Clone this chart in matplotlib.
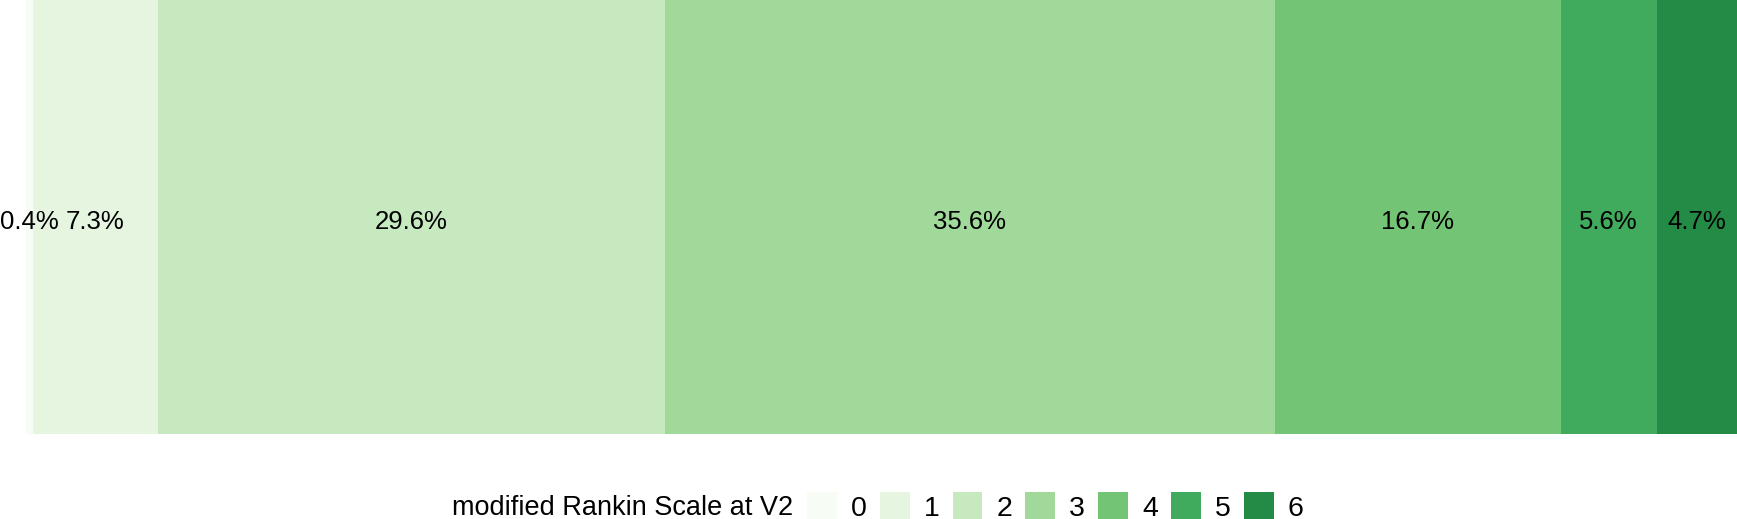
import matplotlib
matplotlib.use("Agg")
import matplotlib.pyplot as plt
from matplotlib.patches import Patch

plt.rcParams["font.family"] = ["Liberation Sans", "DejaVu Sans"]

# =========================================================
# DATA
# =========================================================
MRS_LEVELS = ["0", "1", "2", "3", "4", "5", "6"]
PERCENTS = [0.4, 7.3, 29.6, 35.6, 16.7, 5.6, 4.7]
COLORS = ["#f7fcf5", "#e5f5e0", "#c7e9c0", "#a1d99b", "#74c476", "#41ab5d", "#238b45"]
LEGEND_TITLE = "modified Rankin Scale at V2"

# =========================================================
# FIGURE
# =========================================================
W, H = 1737, 519
fig = plt.figure(figsize=(W / 100, H / 100), dpi=100)
fig.patch.set_facecolor("white")

# bar panel: x 26..1737 px, y 0..434 px from top
ax = fig.add_axes([26 / W, (H - 434) / H, (W - 26) / W, 434 / H])

LABEL_DROP = 0.012  # nudge labels down a little, like the reference

left = 0.0
for lvl, pct, col in zip(MRS_LEVELS, PERCENTS, COLORS):
    ax.barh(0, pct, left=left, height=1.0, color=col, edgecolor="none")
    ax.text(left + pct / 2, -LABEL_DROP, f"{pct:.1f}%", ha="center", va="center",
            fontsize=18.5, color="black")
    left += pct

ax.set_xlim(0, sum(PERCENTS))
ax.set_ylim(-0.5, 0.5)
ax.axis("off")

# legend
handles = [Patch(facecolor=c, edgecolor="none") for c in COLORS]
fig.legend(
    handles, MRS_LEVELS,
    loc="center left",
    bbox_to_anchor=(807 / W, 12 / H),
    ncol=len(MRS_LEVELS),
    frameon=False,
    fontsize=20.5,
    handlelength=1.05,
    handleheight=1.1,
    handletextpad=0.5,
    columnspacing=0.45,
    borderpad=0,
    borderaxespad=0,
)
fig.text(452 / W, 11 / H, LEGEND_TITLE, ha="left", va="center", fontsize=19.5)

fig.savefig("out.png", dpi=100, facecolor="white")
plt.close(fig)
